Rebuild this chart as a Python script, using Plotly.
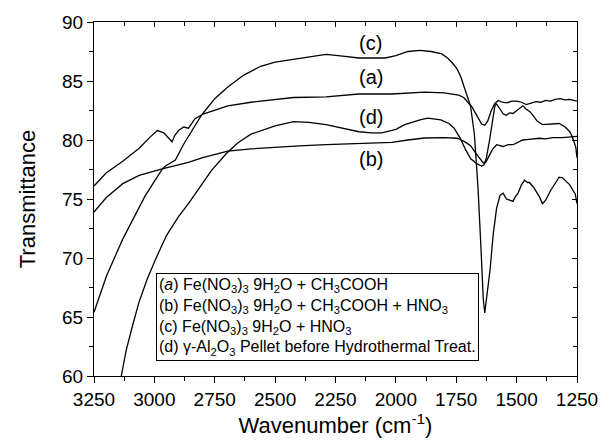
import plotly.graph_objects as go

# FT-IR transmittance spectra, read as (wavenumber, %T) pairs
wn_a = [3250, 3200, 3131, 3063, 3020, 2988, 2961, 2940, 2927, 2915, 2900, 2879, 2859, 2845,
        2832, 2798, 2750, 2696, 2600, 2500, 2424, 2289, 2153, 2017, 1950, 1882, 1800, 1773,
        1740, 1719, 1700, 1685, 1660, 1645, 1632, 1620, 1605, 1590, 1576, 1560, 1540, 1520,
        1500, 1480, 1460, 1440, 1420, 1400, 1380, 1360, 1340, 1320, 1300, 1280, 1250]
t_a = [76.1, 77.2, 78.2, 79.3, 80.2, 80.8, 80.6, 80.1, 79.85, 80.4, 80.8, 81.1, 81.0, 81.4,
       81.8, 82.2, 82.5, 82.9, 83.2, 83.45, 83.6, 83.65, 83.9, 83.9, 84.0, 84.05, 84.0, 83.9,
       83.8, 83.6, 83.2, 82.8, 81.9, 81.35, 81.25, 81.6, 82.5, 83.1, 83.35, 83.2, 83.15, 83.3,
       83.3, 83.2, 83.0, 83.1, 83.25, 83.2, 83.35, 83.3, 83.45, 83.5, 83.4, 83.45, 83.3]

wn_b = [3250, 3200, 3131, 3063, 2968, 2900, 2859, 2800, 2696, 2600, 2500, 2400, 2289, 2150,
        2017, 1950, 1882, 1800, 1746, 1710, 1690, 1670, 1650, 1638, 1628, 1615, 1600, 1583,
        1570, 1556, 1535, 1515, 1495, 1474, 1450, 1430, 1406, 1380, 1350, 1311, 1280, 1250]
t_b = [73.9, 75.1, 76.3, 77.0, 77.55, 77.9, 78.1, 78.5, 79.05, 79.25, 79.4, 79.5, 79.6, 79.7,
       79.8, 80.0, 80.17, 80.2, 80.15, 79.8, 79.5, 78.9, 78.3, 78.05, 78.1, 78.6, 79.2, 79.6,
       79.5, 79.45, 79.6, 79.6, 79.8, 80.0, 80.05, 80.1, 80.15, 80.1, 80.2, 80.2, 80.25, 80.3]

wn_c = [3250, 3198, 3131, 3076, 3040, 3000, 2968, 2954, 2935, 2913, 2880, 2846, 2805, 2750,
        2696, 2630, 2560, 2500, 2438, 2360, 2289, 2220, 2153, 2044, 2000, 1950, 1900, 1854,
        1810, 1786, 1765, 1746, 1730, 1719, 1705, 1691, 1675, 1660, 1648, 1638, 1632, 1622,
        1610, 1597, 1583, 1569, 1556, 1542, 1530, 1515, 1505, 1494, 1480, 1467, 1455, 1447,
        1430, 1406, 1393, 1380, 1360, 1340, 1324, 1310, 1299, 1280, 1257, 1250]
t_c = [65.4, 68.5, 71.6, 73.8, 75.2, 76.5, 77.5, 77.8, 78.0, 78.3, 79.6, 80.7, 82.1, 83.5,
       84.5, 85.5, 86.25, 86.6, 86.8, 87.05, 87.25, 87.1, 86.95, 86.95, 87.15, 87.5, 87.6, 87.5,
       87.3, 86.95, 86.5, 86.0, 85.3, 84.6, 83.7, 82.9, 80.5, 76.0, 71.0, 66.5, 65.35, 66.8,
       69.0, 72.0, 74.2, 75.3, 75.5, 75.0, 74.9, 74.8, 75.2, 75.5, 76.2, 76.6, 76.4, 76.4,
       76.0, 75.2, 74.6, 74.9, 75.7, 76.4, 76.85, 76.8, 76.6, 76.2, 75.4, 74.6]

wn_d = [3137, 3117, 3090, 3063, 3030, 2995, 2950, 2900, 2859, 2800, 2764, 2700, 2655, 2600,
        2560, 2500, 2424, 2360, 2289, 2220, 2153, 2100, 2058, 2000, 1963, 1900, 1868, 1814,
        1780, 1759, 1732, 1712, 1690, 1665, 1645, 1635, 1625, 1612, 1600, 1590, 1583, 1570,
        1555, 1542, 1530, 1515, 1495, 1474, 1460, 1445, 1433, 1415, 1393, 1370, 1345, 1324,
        1299, 1280, 1270, 1255, 1250]
t_d = [60.0, 62.15, 64.3, 66.3, 68.2, 69.9, 71.9, 73.5, 74.6, 76.3, 77.4, 78.9, 79.75, 80.5,
       80.8, 81.2, 81.55, 81.5, 81.3, 81.0, 80.7, 80.6, 80.6, 80.9, 81.3, 81.7, 81.85, 81.7,
       81.4, 81.0, 80.1, 79.2, 78.4, 78.0, 77.8, 77.9, 78.5, 80.0, 81.8, 82.9, 83.05, 82.6,
       82.2, 82.1, 82.3, 82.25, 82.6, 82.9, 82.6, 82.4, 82.1, 81.6, 81.3, 81.35, 81.4, 81.4,
       81.1, 80.7, 80.3, 79.4, 78.5]

# curve tags placed above each spectrum
tag_text = ["(c)", "(a)", "(d)", "(b)"]
tag_x = [2105, 2105, 2105, 2105]
tag_y = [88.2, 85.3, 81.95, 78.4]

legend_lines = [
    "(<i>a</i>) Fe(NO<sub>3</sub>)<sub>3</sub> 9H<sub>2</sub>O + CH<sub>3</sub>COOH",
    "(b) Fe(NO<sub>3</sub>)<sub>3</sub> 9H<sub>2</sub>O + CH<sub>3</sub>COOH + HNO<sub>3</sub>",
    "(c) Fe(NO<sub>3</sub>)<sub>3</sub> 9H<sub>2</sub>O + HNO<sub>3</sub>",
    "(d) γ-Al<sub>2</sub>O<sub>3</sub> Pellet before Hydrothermal Treat.",
]

x_ticks = [3250, 3000, 2750, 2500, 2250, 2000, 1750, 1500, 1250]
y_ticks = [60, 65, 70, 75, 80, 85, 90]
x_range = [3250, 1250]
y_range = [60, 90]

FONT = "Liberation Sans, Arial, sans-serif"
LINE = dict(color="black", width=1.3)

fig = go.Figure()
# spectrum (a) sits on the mirrored top/right axis pair so those axes get drawn;
# both pairs share identical fixed ranges
fig.add_trace(go.Scatter(x=wn_a, y=t_a, mode="lines", line=LINE, xaxis="x2", yaxis="y2",
                         showlegend=False, hoverinfo="skip"))
for wn, t in [(wn_b, t_b), (wn_c, t_c), (wn_d, t_d)]:
    fig.add_trace(go.Scatter(x=wn, y=t, mode="lines", line=LINE,
                             showlegend=False, hoverinfo="skip"))

for txt, x, y in zip(tag_text, tag_x, tag_y):
    fig.add_annotation(x=x, y=y, text=txt, showarrow=False,
                       font=dict(family=FONT, size=20, color="black"))

fig.add_annotation(
    xref="paper", yref="paper", x=0.128, y=0.29, xanchor="left", yanchor="top",
    text="<br>".join(legend_lines), align="left", showarrow=False,
    font=dict(family=FONT, size=16, color="black"),
    bordercolor="black", borderwidth=1, borderpad=2, bgcolor="white",
)

axis_common = dict(showgrid=False, zeroline=False, color="black", linecolor="black",
                   linewidth=1.3)

fig.update_layout(
    width=610, height=443,
    margin=dict(l=94, r=25, t=15, b=66),
    paper_bgcolor="white", plot_bgcolor="white",
    font=dict(family=FONT, size=19, color="black"),
    xaxis=dict(range=x_range, tickvals=x_ticks, ticks="outside", ticklen=6,
               tickwidth=1.2, showline=True, mirror=True,
               minor=dict(dtick=125, ticks="outside", ticklen=4, tickwidth=1),
               title=dict(text="Wavenumber (cm<sup>-1</sup>)", font=dict(size=22), standoff=6),
               tickfont=dict(size=19), **axis_common),
    yaxis=dict(range=y_range, tickvals=y_ticks, ticks="outside", ticklen=6,
               tickwidth=1.2, showline=True, mirror=True,
               minor=dict(dtick=2.5, ticks="outside", ticklen=4, tickwidth=1),
               title=dict(text="Transmittance", font=dict(size=22), standoff=20),
               tickfont=dict(size=19), **axis_common),
    xaxis2=dict(range=x_range, overlaying="x", side="top", tickvals=x_ticks,
                ticks="inside", ticklen=5, tickwidth=1.2, tickcolor="black",
                showticklabels=False, showline=False,
                minor=dict(dtick=125, ticks="inside", ticklen=4, tickcolor="black"),
                showgrid=False, zeroline=False),
    yaxis2=dict(range=y_range, overlaying="y", side="right", tickvals=y_ticks,
                ticks="inside", ticklen=5, tickwidth=1.2, tickcolor="black",
                showticklabels=False, showline=False,
                minor=dict(dtick=2.5, ticks="inside", ticklen=4, tickcolor="black"),
                showgrid=False, zeroline=False),
)

fig.write_html("out.html")
